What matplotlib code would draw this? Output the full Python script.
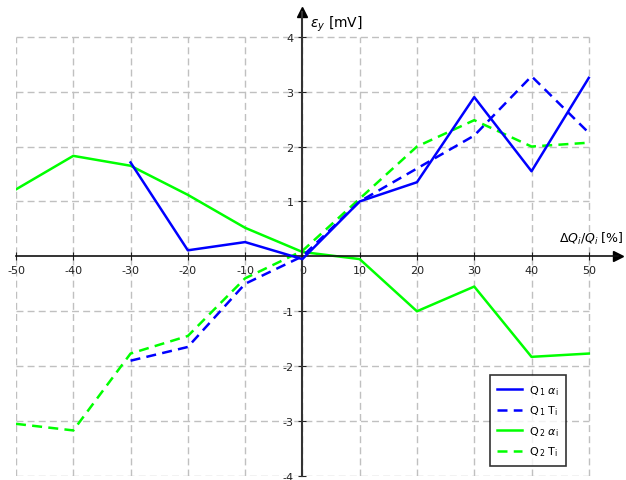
import numpy as np
import matplotlib
matplotlib.use('Agg')
import matplotlib.pyplot as plt

x = [-50, -40, -30, -20, -10, 0, 10, 20, 30, 40, 50]
q1_alpha_x = [-30, -20, -10, 0, 10, 20, 30, 40, 50]
q1_alpha = [1.71, 0.11, 0.26, -0.05, 1.0, 1.35, 2.9, 1.55, 3.25]
q1_t_x = [-30, -20, -10, 0, 10, 20, 30, 40, 50]
q1_t = [-1.9, -1.65, -0.5, 0.0, 1.0, 1.6, 2.2, 3.28, 2.25]
q2_alpha = [1.22, 1.83, 1.65, 1.12, 0.52, 0.08, -0.05, -1.0, -0.55, -1.83, -1.77]
q2_t = [-3.05, -3.17, -1.77, -1.45, -0.4, 0.1, 1.05, 2.0, 2.48, 2.0, 2.07]

xticks = [-50, -40, -30, -20, -10, 0, 10, 20, 30, 40, 50]
yticks = [-4, -3, -2, -1, 1, 2, 3, 4]

plt.rcParams['font.family'] = ['DejaVu Sans']
fig = plt.figure(figsize=(6.26, 4.81), dpi=100)
ax = fig.add_axes([16 / 626, 4 / 481, 602 / 626, 464 / 481])
ax.set_xlim(-50, 55.1)
ax.set_ylim(-4, 4.45)

# grid only inside the data range
for xv in xticks:
    ax.plot([xv, xv], [-4, 4], color='#c0c0c0', lw=1, ls=(0, (5, 3)), zorder=0)
for yv in yticks:
    ax.plot([-50, 50], [yv, yv], color='#c0c0c0', lw=1, ls=(0, (5, 3)), zorder=0)

blue = '#0000ff'
green = '#00ff00'
ax.plot(q1_alpha_x, q1_alpha, color=blue, lw=1.8, label=r'Q$_{\,1}$ $\alpha_{\rm i}$', zorder=3)
ax.plot(q1_t_x, q1_t, color=blue, lw=1.8, ls=(0, (4, 2.5)), label=r'Q$_{\,1}$ T$_{\rm i}$', zorder=3)
ax.plot(x, q2_alpha, color=green, lw=1.8, label=r'Q$_{\,2}$ $\alpha_{\rm i}$', zorder=2)
ax.plot(x, q2_t, color=green, lw=1.8, ls=(0, (4, 2.5)), label=r'Q$_{\,2}$ T$_{\rm i}$', zorder=2)

for s in ['top', 'right']:
    ax.spines[s].set_visible(False)
ax.spines['left'].set_position(('data', 0))
ax.spines['bottom'].set_position(('data', 0))
ax.spines['left'].set_color('#333333')
ax.spines['bottom'].set_color('#111111')
ax.spines['left'].set_linewidth(1.5)
ax.spines['bottom'].set_linewidth(1.2)
ax.plot(1, 0, '>', color='black', ms=7, transform=ax.get_yaxis_transform(), clip_on=False)
ax.plot(0, 1, '^', color='black', ms=7, transform=ax.get_xaxis_transform(), clip_on=False)

ax.set_xticks(xticks)
ax.set_yticks(yticks)
ax.tick_params(direction='inout', length=6, labelsize=8, colors='#222222')
ax.set_xticklabels([str(v) for v in xticks])
ax.set_yticklabels([str(v) for v in yticks])

ax.text(1.4, 4.42, r'$\varepsilon_y$ [mV]', fontsize=10, ha='left', va='top')
fig.text(624 / 626, (481 - 247) / 481, r'$\Delta Q_i/Q_i$ [%]', fontsize=9, ha='right', va='bottom')

leg = ax.legend(loc='lower right', fontsize=8, frameon=True, fancybox=False,
                handlelength=2.2, labelspacing=0.6, borderpad=0.7, handletextpad=0.6)
leg.get_frame().set_edgecolor('black')
leg.get_frame().set_linewidth(1.2)
leg.set_bbox_to_anchor((47.0, -3.92), transform=ax.transData)

fig.savefig('out.png', dpi=100)
